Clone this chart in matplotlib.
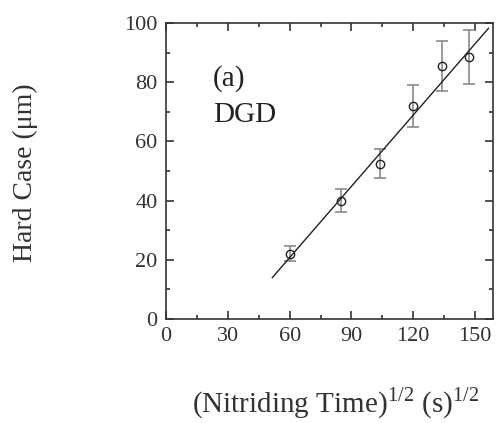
import numpy as np
import matplotlib
matplotlib.use('Agg')
import matplotlib.pyplot as plt
from matplotlib.ticker import MultipleLocator

plt.rcParams['font.family'] = ['Liberation Serif', 'DejaVu Serif']
plt.rcParams['mathtext.fontset'] = 'custom'
plt.rcParams['mathtext.rm'] = 'Liberation Serif'

# data
sqrt_time = [60, 85, 104, 120, 134, 147]          # (s)^1/2
hard_case = [22, 40, 52.5, 72, 85.5, 88.5]         # um
err = [2.5, 4, 5, 7, 8.5, 9]
fit_x = [51.6, 156.5]                               # linear fit, end points
fit_y = [14.0, 98.2]

fig = plt.figure(figsize=(5.0, 4.23), dpi=100)
ax = fig.add_axes([166/500, 1-319/423, (493-166)/500, (319-23)/423])

ax.errorbar(sqrt_time, hard_case, yerr=err, fmt='none', ecolor='#8a8a8a',
            elinewidth=1.2, capsize=4.5, capthick=1.2)
ax.plot(sqrt_time, hard_case, 'o', mfc='none', mec='#222222', ms=6, mew=1.0)
ax.plot(fit_x, fit_y, '-', color='#222222', lw=1.0)

ax.set_xlim(0, 158.7)
ax.set_ylim(0, 100)
ax.xaxis.set_major_locator(MultipleLocator(30))
ax.xaxis.set_minor_locator(MultipleLocator(15))
ax.yaxis.set_major_locator(MultipleLocator(20))
ax.yaxis.set_minor_locator(MultipleLocator(10))
ax.tick_params(which='both', direction='in', top=True, right=True,
               labelsize=16, colors='#333333', pad=6)
ax.tick_params(which='major', length=6, width=1.2)
ax.tick_params(which='minor', length=3, width=1.2)
for s in ax.spines.values():
    s.set_linewidth(1.2)
    s.set_color('#333333')

ax.text(0.144, 0.787, '(a)', transform=ax.transAxes, fontsize=21, color='#222222')
ax.text(0.144, 0.665, 'DGD', transform=ax.transAxes, fontsize=21, color='#222222')

ax.set_ylabel('Hard Case (μm)', fontsize=20, color='#333333')
ax.yaxis.set_label_coords(-0.39, 0.493)
ax.set_xlabel(r'(Nitriding Time)$^{1/2}$ (s)$^{1/2}$', fontsize=21,
              color='#333333')
ax.xaxis.set_label_coords(0.52, -0.345)
ax.xaxis.label.set_va('bottom')

fig.savefig('out.png', dpi=100)
